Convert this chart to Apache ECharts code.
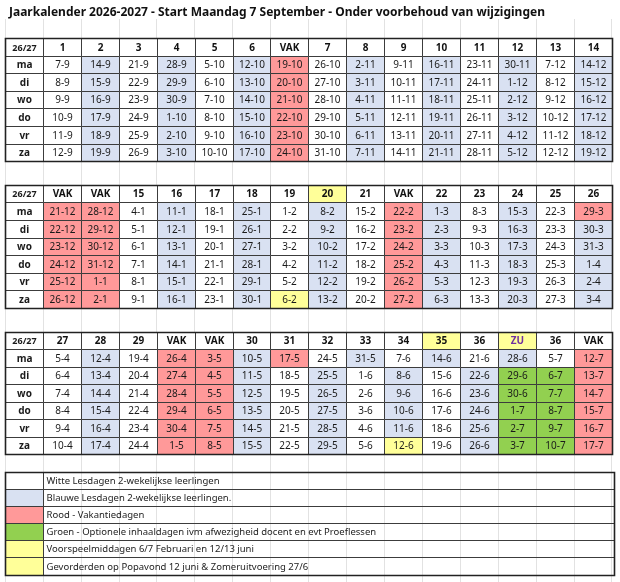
<!DOCTYPE html>
<html>
<head>
<meta charset="utf-8">
<script src="https://cdn.jsdelivr.net/npm/echarts@6/dist/echarts.min.js"></script>
<style>html,body{margin:0;padding:0;background:#fff}#c{width:620px;height:582px}</style>
</head>
<body>
<div id="c"></div>
<script>
const titleText = "Jaarkalender 2026-2027 - Start Maandag 7 September - Onder voorbehoud van wijzigingen";
const cornerLabel = "26/27";
const dayLabels = ["ma", "di", "wo", "do", "vr", "za"];

const block1Weeks = ["1","2","3","4","5","6","VAK","7","8","9","10","11","12","13","14"];
const block1HeaderColors = "wwwwwwwwwwwwwww";
const block1Dates = [
  ["7-9","8-9","9-9","10-9","11-9","12-9"],
  ["14-9","15-9","16-9","17-9","18-9","19-9"],
  ["21-9","22-9","23-9","24-9","25-9","26-9"],
  ["28-9","29-9","30-9","1-10","2-10","3-10"],
  ["5-10","6-10","7-10","8-10","9-10","10-10"],
  ["12-10","13-10","14-10","15-10","16-10","17-10"],
  ["19-10","20-10","21-10","22-10","23-10","24-10"],
  ["26-10","27-10","28-10","29-10","30-10","31-10"],
  ["2-11","3-11","4-11","5-11","6-11","7-11"],
  ["9-11","10-11","11-11","12-11","13-11","14-11"],
  ["16-11","17-11","18-11","19-11","20-11","21-11"],
  ["23-11","24-11","25-11","26-11","27-11","28-11"],
  ["30-11","1-12","2-12","3-12","4-12","5-12"],
  ["7-12","8-12","9-12","10-12","11-12","12-12"],
  ["14-12","15-12","16-12","17-12","18-12","19-12"]
];
const block1Colors = ["wwwwww","bbbbbb","wwwwww","bbbbbb","wwwwww","bbbbbb","rrrrrr","wwwwww","bbbbbb","wwwwww","bbbbbb","wwwwww","bbbbbb","wwwwww","bbbbbb"];

const block2Weeks = ["VAK","VAK","15","16","17","18","19","20","21","VAK","22","23","24","25","26"];
const block2HeaderColors = "wwwwwwwywwwwwww";
const block2Dates = [
  ["21-12","22-12","23-12","24-12","25-12","26-12"],
  ["28-12","29-12","30-12","31-12","1-1","2-1"],
  ["4-1","5-1","6-1","7-1","8-1","9-1"],
  ["11-1","12-1","13-1","14-1","15-1","16-1"],
  ["18-1","19-1","20-1","21-1","22-1","23-1"],
  ["25-1","26-1","27-1","28-1","29-1","30-1"],
  ["1-2","2-2","3-2","4-2","5-2","6-2"],
  ["8-2","9-2","10-2","11-2","12-2","13-2"],
  ["15-2","16-2","17-2","18-2","19-2","20-2"],
  ["22-2","23-2","24-2","25-2","26-2","27-2"],
  ["1-3","2-3","3-3","4-3","5-3","6-3"],
  ["8-3","9-3","10-3","11-3","12-3","13-3"],
  ["15-3","16-3","17-3","18-3","19-3","20-3"],
  ["22-3","23-3","24-3","25-3","26-3","27-3"],
  ["29-3","30-3","31-3","1-4","2-4","3-4"]
];
const block2Colors = ["rrrrrr","rrrrrr","wwwwww","bbbbbb","wwwwww","bbbbbb","wwwwwy","bbbbbb","wwwwww","rrrrrr","bbbbbb","wwwwww","bbbbbb","wwwwww","rbbbbb"];

const block3Weeks = ["27","28","29","VAK","VAK","30","31","32","33","34","35","36","ZU","36","VAK"];
const block3HeaderColors = "wwwwwwwwwwywyww";
const block3Dates = [
  ["5-4","6-4","7-4","8-4","9-4","10-4"],
  ["12-4","13-4","14-4","15-4","16-4","17-4"],
  ["19-4","20-4","21-4","22-4","23-4","24-4"],
  ["26-4","27-4","28-4","29-4","30-4","1-5"],
  ["3-5","4-5","5-5","6-5","7-5","8-5"],
  ["10-5","11-5","12-5","13-5","14-5","15-5"],
  ["17-5","18-5","19-5","20-5","21-5","22-5"],
  ["24-5","25-5","26-5","27-5","28-5","29-5"],
  ["31-5","1-6","2-6","3-6","4-6","5-6"],
  ["7-6","8-6","9-6","10-6","11-6","12-6"],
  ["14-6","15-6","16-6","17-6","18-6","19-6"],
  ["21-6","22-6","23-6","24-6","25-6","26-6"],
  ["28-6","29-6","30-6","1-7","2-7","3-7"],
  ["5-7","6-7","7-7","8-7","9-7","10-7"],
  ["12-7","13-7","14-7","15-7","16-7","17-7"]
];
const block3Colors = ["wwwwww","bbbbbb","wwwwww","rrrrrr","rrrrrr","bbbbbb","rwwwww","wbbbbb","bwwwww","wbbbby","bwwwww","wbbbbb","bggggg","wggggg","rrrrrr"];

const legendColors = ["w","b","r","g","y","y"];
const legendTexts = [
  "Witte Lesdagen 2-wekelijkse leerlingen",
  "Blauwe Lesdagen 2-wekelijkse leerlingen.",
  "Rood - Vakantiedagen",
  "Groen - Optionele inhaaldagen ivm afwezigheid docent en evt Proeflessen",
  "Voorspeelmiddagen 6/7 Februari en 12/13 juni",
  "Gevorderden op Popavond 12 juni & Zomeruitvoering 27/6"
];

// ---- styling / layout ----
const FILL = { w: '#ffffff', b: '#d9e1f2', r: '#ff9999', g: '#92d050', y: '#ffff99' };
const FONT = '"Noto Sans", "Open Sans", sans-serif';
const blockTops = [0, 8.36, 16.72];
const legendTop = 24.7, legendRowH = 0.98;

const cells = [];
function addCell(x, y, w, h, text, fill, opt) {
  cells.push(Object.assign({ x, y, w, h, text, fill }, opt || {}));
}
const blocks = [
  [block1Weeks, block1HeaderColors, block1Dates, block1Colors],
  [block2Weeks, block2HeaderColors, block2Dates, block2Colors],
  [block3Weeks, block3HeaderColors, block3Dates, block3Colors]
];
blocks.forEach(([weeks, hcol, dates, cols], bi) => {
  const top = blockTops[bi];
  addCell(0, top, 1, 1, cornerLabel, FILL.w, { bold: true, size: 9 });
  weeks.forEach((wk, c) => {
    addCell(c + 1, top, 1, 1, wk, FILL[hcol[c]], { bold: true, color: wk === 'ZU' ? '#7030a0' : '#111' });
  });
  dayLabels.forEach((d, r) => {
    addCell(0, top + 1 + r, 1, 1, d, FILL.w, { bold: true });
    dates.forEach((col, c) => {
      addCell(c + 1, top + 1 + r, 1, 1, col[r], FILL[cols[c][r]]);
    });
  });
  addCell(0, top, 16, 7, '', null, { frame: true });
});
legendTexts.forEach((t, i) => {
  const y = legendTop + i * legendRowH;
  addCell(0, y, 1, legendRowH, '', FILL[legendColors[i]]);
  addCell(1, y, 15.06, legendRowH, t, null, { align: 'left', size: 9.5, color: '#222' });
});
addCell(0, legendTop, 16.06, legendRowH * legendTexts.length, '', null, { frame: true });

const chart = echarts.init(document.getElementById('c'), null, { renderer: 'canvas' });
chart.setOption({
  animation: false,
  backgroundColor: '#ffffff',
  title: {
    text: titleText, left: 4, top: 2,
    textStyle: { fontSize: 12, fontWeight: 'bold', fontFamily: FONT, color: '#111' }
  },
  grid: { left: 5, right: 8.3, top: 19, bottom: 0 },
  xAxis: {
    type: 'value', min: 0, max: 16, interval: 1, position: 'top',
    axisLine: { show: true, lineStyle: { color: '#e2e2e2' } },
    axisTick: { show: false }, axisLabel: { show: false },
    splitLine: { show: true, lineStyle: { color: '#e2e2e2', width: 1 } }
  },
  yAxis: {
    type: 'value', min: -1.1, max: 31, inverse: true,
    axisLine: { show: false }, axisTick: { show: false }, axisLabel: { show: false },
    splitLine: { show: false }
  },
  series: [{
    type: 'custom',
    clip: false,
    data: cells.map(c => ({ value: [c.x, c.y, c.w, c.h] })),
    renderItem: function (params, api) {
      const c = cells[params.dataIndex];
      const p0 = api.coord([api.value(0), api.value(1)]);
      const p1 = api.coord([api.value(0) + api.value(2), api.value(1) + api.value(3)]);
      const x0 = Math.round(p0[0]) + 0.5, y0 = Math.round(p0[1]) + 0.5;
      const x1 = Math.round(p1[0]) + 0.5, y1 = Math.round(p1[1]) + 0.5;
      const children = [{
        type: 'rect',
        shape: { x: x0, y: y0, width: x1 - x0, height: y1 - y0 },
        style: {
          fill: c.frame ? null : (c.fill || null),
          stroke: c.frame ? '#222' : '#3c3c3c',
          lineWidth: c.frame ? 1.6 : 1
        }
      }];
      if (c.text) {
        const left = c.align === 'left';
        children.push({
          type: 'text',
          style: {
            text: c.text,
            x: left ? x0 + 3 : (x0 + x1) / 2,
            y: (y0 + y1) / 2 + 0.5,
            align: left ? 'left' : 'center',
            verticalAlign: 'middle',
            fontSize: c.size || 10,
            fontWeight: c.bold ? 'bold' : 'normal',
            fontFamily: FONT,
            fill: c.color || '#1a1a1a'
          }
        });
      }
      return { type: 'group', children };
    }
  }]
});
</script>
</body>
</html>
